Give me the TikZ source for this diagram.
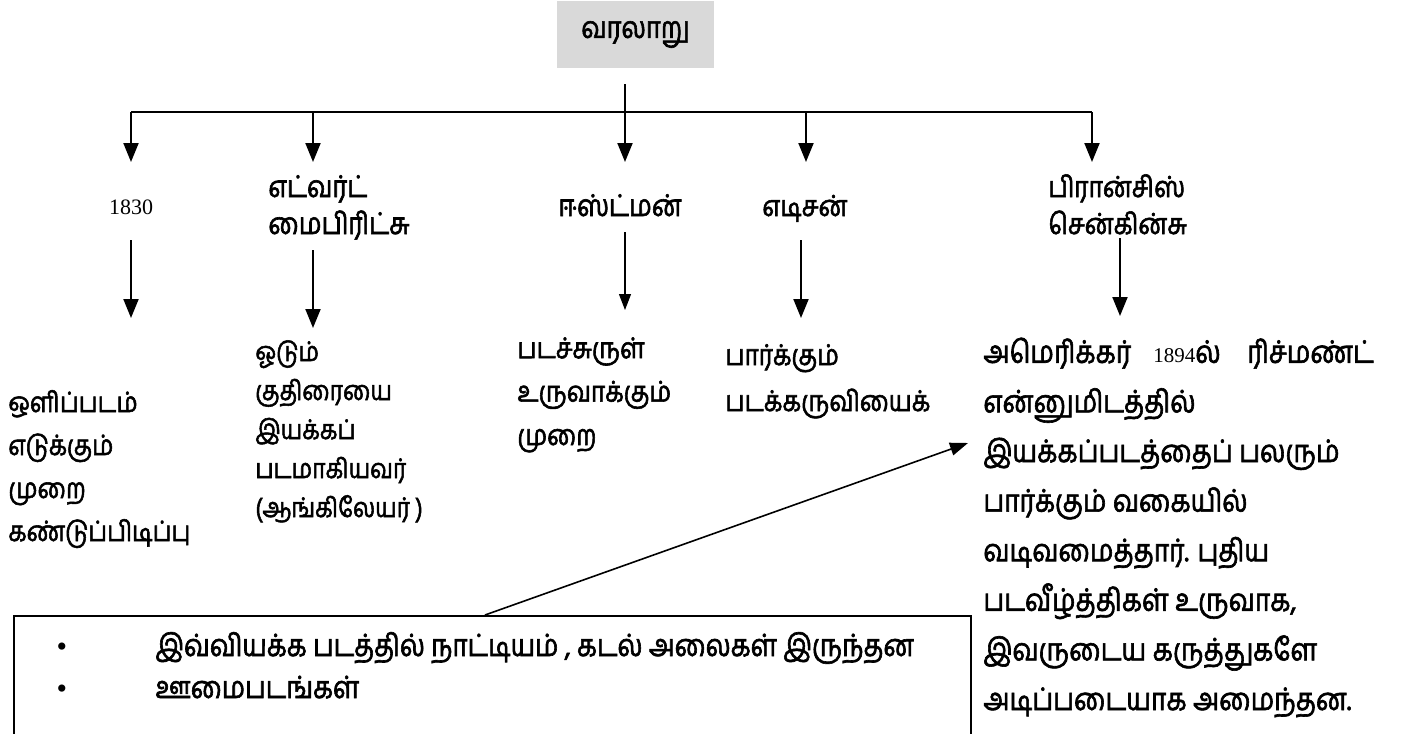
\documentclass[tikz,border=0pt]{standalone}
\usepackage{fontspec}
\newfontfamily\tamil[Script=Tamil, FakeStretch=0.85, FakeBold=2]{Hind Madurai}
\newfontfamily\numf{Liberation Serif}
\usetikzlibrary{arrows.meta}
\definecolor{rootgray}{HTML}{D9D9D9}
\newcommand{\tf}[2]{\tamil\fontsize{#1}{#2}\selectfont}
\tikzset{
  rootbox/.style={fill=rootgray, minimum width=78.5pt, minimum height=33.5pt, inner sep=0pt, font=\tf{15}{18}},
  bar/.style={line width=1pt},
  arr/.style={line width=1pt, -{Triangle[width=7.5pt,length=9.5pt]}},
  thinarr/.style={line width=0.6pt, -{Triangle[width=6pt,length=8pt]}},
  diagarr/.style={line width=0.8pt, -{Triangle[width=6.5pt,length=9pt]}},
  lbl/.style={inner sep=0pt, anchor=base west, align=left},
  numlbl/.style={inner sep=0pt, font=\numf\fontsize{11}{13}\selectfont},
  bul/.style={inner sep=0pt, font=\numf\fontsize{15}{18}\selectfont},
  notebox/.style={draw, line width=0.75pt, anchor=north west, minimum width=478.5pt, minimum height=80pt, inner sep=0pt},
}
\begin{document}
\begin{tikzpicture}[x=0.5pt,y=-0.5pt]
\useasboundingbox (0,0) rectangle (1404,734);
% root
\node[rootbox] (root) at (635.5,34.5) {வரலாறு};
% connectors, first level
\coordinate (top) at (625,84);
\coordinate (b1) at (131,112);
\coordinate (b2) at (313,112);
\coordinate (b3) at (625,112);
\coordinate (b4) at (806,112);
\coordinate (b5) at (1092,112);
\coordinate (t1) at (131,162);
\coordinate (t2) at (313,162);
\coordinate (t3) at (625,162);
\coordinate (t4) at (806,162);
\coordinate (t5) at (1092,162);
\draw[bar] (b1) -- (b5);
\draw[arr] (top) -- (t3);
\draw[arr] (b1) -- (t1);
\draw[arr] (b2) -- (t2);
\draw[arr] (b4) -- (t4);
\draw[arr] (b5) -- (t5);
% first-level labels
\node[numlbl] (n1830) at (131,207) {1830};
\node[lbl, font=\tf{15}{18.5}] (edward) at (268,234) {எட்வர்ட்\\மைபிரிட்சு};
\node[lbl, font=\tf{15}{18.5}] (eastman) at (558,216) {ஈஸ்ட்மன்};
\node[lbl, font=\tf{14.5}{18.5}] (edison) at (762,216) {எடிசன்};
\node[lbl, font=\tf{14.5}{18.5}] (francis) at (1048,234) {பிரான்சிஸ்\\சென்கின்சு};
% second-level connectors
\coordinate (s1) at (131,240);  \coordinate (e1) at (131,318);
\coordinate (s2) at (313,250);  \coordinate (e2) at (313,328);
\coordinate (s3) at (625,232);  \coordinate (e3) at (625,310);
\coordinate (s4) at (801,240);  \coordinate (e4) at (801,318);
\coordinate (s5) at (1120,238); \coordinate (e5) at (1120,316);
\draw[arr] (s1) -- (e1);
\draw[arr] (s2) -- (e2);
\draw[thinarr] (s3) -- (e3);
\draw[arr] (s4) -- (e4);
\draw[arr] (s5) -- (e5);
% second-level texts
\node[lbl, font=\tf{14}{21.5}] (photo) at (8,541)
  {ஒளிப்படம்\\எடுக்கும்\\முறை\\கண்டுப்பிடிப்பு};
\node[lbl, font=\tf{13.5}{19.5}] (horse) at (255,517)
  {ஓடும்\\குதிரையை\\இயக்கப்\\படமாகியவர்\\(ஆங்கிலேயர் )};
\node[lbl, font=\tf{14.3}{21.7}] (film) at (517,445)
  {படச்சுருள்\\உருவாக்கும்\\முறை};
\node[lbl, font=\tf{14.3}{23}] (camera) at (725,411)
  {பார்க்கும்\\படக்கருவியைக்};
\node[lbl, font=\tf{15.5}{24.8}] (jenkins) at (983,710)
  {\makebox[85pt][l]{அமெரிக்கர்}\makebox[47pt][l]{{\numf\fontsize{10.5}{12}\selectfont 1894}ல்}ரிச்மண்ட்\\என்னுமிடத்தில்\\இயக்கப்படத்தைப் பலரும்\\பார்க்கும் வகையில்\\வடிவமைத்தார். புதிய\\படவீழ்த்திகள் உருவாக,\\இவருடைய கருத்துகளே\\அடிப்படையாக அமைந்தன.};
% note box
\node[notebox] (note) at (13,615) {};
\coordinate (ns) at (485,615);
\coordinate (ne) at (968,443);
\draw[diagarr] (ns) -- (ne);
\node[bul] (bul1) at (62,650) {•};
\node[bul] (bul2) at (62,692) {•};
\node[lbl, font=\tf{15.3}{21}] (item1) at (155,656) {இவ்வியக்க படத்தில் நாட்டியம் , கடல் அலைகள் இருந்தன};
\node[lbl, font=\tf{15.3}{21}] (item2) at (155,698) {ஊமைபடங்கள்};
\end{tikzpicture}
\end{document}
